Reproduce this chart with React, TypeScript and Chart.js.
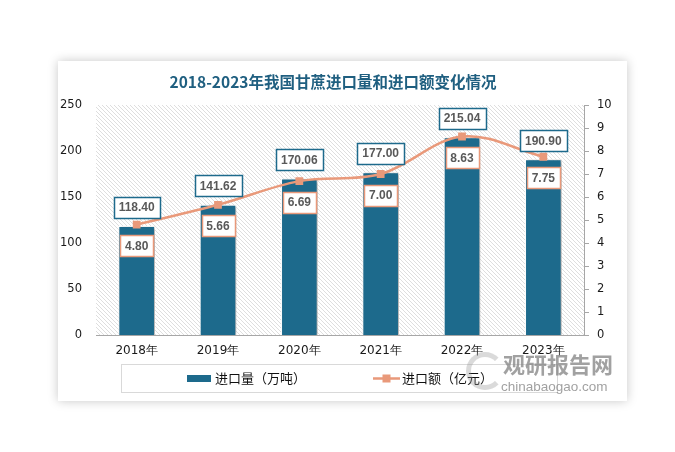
import React, { useEffect, useRef } from "react";
import { Chart, registerables } from "chart.js";

Chart.register(...registerables);

const categories = ["2018年", "2019年", "2020年", "2021年", "2022年", "2023年"];
const importVolume = [118.4, 141.62, 170.06, 177.0, 215.04, 190.9];
const importValue = [4.8, 5.66, 6.69, 7.0, 8.63, 7.75];
const leftTickStep = 50;
const leftMax = 250;
const rightTickStep = 1;
const rightMax = 10;
const titleText = "2018-2023年我国甘蔗进口量和进口额变化情况";
const volumeLabel = "进口量（万吨）";
const valueLabel = "进口额（亿元）";

const BAR_COLOR = "#1d6a8c";
const LINE_COLOR = "#e9997a";
const W = 569;
const H = 340;

function makeHatch(ctx: CanvasRenderingContext2D) {
  const c = document.createElement("canvas");
  c.width = 4;
  c.height = 4;
  const g = c.getContext("2d")!;
  g.fillStyle = "#ffffff";
  g.fillRect(0, 0, 4, 4);
  g.fillStyle = "#dedede";
  for (let i = 0; i < 4; i++) g.fillRect(i, i, 1, 1);
  return ctx.createPattern(c, "repeat");
}

function drawBox(
  ctx: CanvasRenderingContext2D,
  text: string,
  cx: number,
  cy: number,
  border: string
) {
  ctx.font = "bold 12px 'Liberation Sans', Arial, sans-serif";
  const tw = ctx.measureText(text).width;
  const w = Math.round(tw + 10);
  const h = 21;
  const x = Math.round(cx - w / 2) + 0.5;
  const y = Math.round(cy - h / 2) + 0.5;
  ctx.fillStyle = "#ffffff";
  ctx.fillRect(x, y, w, h);
  ctx.strokeStyle = border;
  ctx.lineWidth = 1.5;
  ctx.strokeRect(x, y, w, h);
  ctx.fillStyle = "#595959";
  ctx.textAlign = "center";
  ctx.textBaseline = "middle";
  ctx.fillText(text, cx, cy + 1);
}

const customPlugin = {
  id: "customDraw",
  beforeDatasetsDraw(chart: any) {
    const { ctx, chartArea } = chart;
    ctx.save();
    const p = makeHatch(ctx);
    if (p) {
      ctx.fillStyle = p;
      ctx.fillRect(chartArea.left, chartArea.top, chartArea.right - chartArea.left, chartArea.bottom - chartArea.top);
    }
    ctx.restore();
  },
  beforeDatasetDraw(chart: any, args: any) {
    if (args.index === 0) {
      const ctx = chart.ctx;
      ctx.save();
      ctx.shadowColor = "rgba(0,0,0,0.35)";
      ctx.shadowBlur = 3;
      ctx.shadowOffsetX = 2;
      ctx.shadowOffsetY = 1;
    }
  },
  afterDatasetDraw(chart: any, args: any) {
    if (args.index === 0) chart.ctx.restore();
  },
  afterDatasetsDraw(chart: any) {
    const ctx = chart.ctx;
    ctx.save();
    const barMeta = chart.getDatasetMeta(0);
    barMeta.data.forEach((el: any, i: number) => {
      drawBox(ctx, importVolume[i].toFixed(2), el.x, el.y - 19, BAR_COLOR);
    });
    const lineMeta = chart.getDatasetMeta(1);
    lineMeta.data.forEach((el: any, i: number) => {
      drawBox(ctx, importValue[i].toFixed(2), el.x, el.y + 21, LINE_COLOR);
    });
    ctx.restore();
  },
  afterDraw(chart: any) {
    const ctx = chart.ctx;
    ctx.save();
    // title
    ctx.font = "bold 15.5px 'Noto Sans CJK SC', sans-serif";
    ctx.fillStyle = "#1f5f80";
    ctx.textAlign = "center";
    ctx.textBaseline = "middle";
    ctx.fillText(titleText, 275, 21);
    // legend box
    ctx.strokeStyle = "#d9d9d9";
    ctx.lineWidth = 1;
    ctx.strokeRect(63.5, 303.5, 436, 28);
    // bar legend
    ctx.fillStyle = BAR_COLOR;
    ctx.fillRect(129, 314, 24, 7);
    ctx.font = "13px 'Noto Sans CJK SC', sans-serif";
    ctx.fillStyle = "#111111";
    ctx.textAlign = "left";
    ctx.fillText(volumeLabel, 157, 317.5);
    // line legend
    ctx.strokeStyle = LINE_COLOR;
    ctx.lineWidth = 2.5;
    ctx.beginPath();
    ctx.moveTo(315, 317.5);
    ctx.lineTo(342, 317.5);
    ctx.stroke();
    ctx.fillStyle = LINE_COLOR;
    ctx.fillRect(324.5, 313.5, 8, 8);
    ctx.fillStyle = "#111111";
    ctx.fillText(valueLabel, 344, 317.5);
    ctx.restore();
  },
};

export default function App() {
  const ref = useRef<HTMLCanvasElement | null>(null);
  useEffect(() => {
    if (!ref.current) return;
    const tickFont = { family: "'DejaVu Sans', sans-serif", size: 11.5 };
    const xFont = { family: "'DejaVu Sans', sans-serif", size: 12 };
    const chart = new Chart(ref.current, {
      type: "bar",
      data: {
        labels: categories,
        datasets: [
          {
            type: "bar",
            label: volumeLabel,
            data: importVolume,
            backgroundColor: BAR_COLOR,
            borderColor: "#ffffff",
            borderWidth: 1,
            yAxisID: "y",
            barPercentage: 0.45,
            categoryPercentage: 1,
            order: 1,
          },
          {
            type: "line",
            label: valueLabel,
            data: importValue,
            borderColor: LINE_COLOR,
            backgroundColor: LINE_COLOR,
            borderWidth: 2.5,
            pointStyle: "rect",
            pointRadius: 5.5,
            pointBackgroundColor: LINE_COLOR,
            pointBorderWidth: 0,
            tension: 0.35,
            yAxisID: "y1",
            order: 0,
          },
        ] as any,
      },
      options: {
        responsive: false,
        devicePixelRatio: 1,
        animation: false,
        layout: { padding: { top: 44, left: 0, right: 0, bottom: 36 } },
        plugins: {
          legend: { display: false },
          title: { display: false },
          tooltip: { enabled: false },
        },
        scales: {
          x: {
            grid: { display: false, drawTicks: false },
            border: { display: true, color: "#a6a6a6", width: 1 },
            ticks: { color: "#1a1a1a", font: xFont, padding: 9 },
            afterFit: (s: any) => {
              s.height = 30;
            },
          },
          y: {
            position: "left",
            min: 0,
            max: leftMax,
            ticks: { stepSize: leftTickStep, color: "#1a1a1a", font: tickFont, padding: 14 },
            grid: { display: false, drawTicks: false },
            border: { display: false },
            afterFit: (s: any) => {
              s.width = 38;
            },
          },
          y1: {
            position: "right",
            min: 0,
            max: rightMax,
            ticks: { stepSize: rightTickStep, color: "#1a1a1a", font: tickFont, padding: 8 },
            grid: { drawOnChartArea: false, drawTicks: true, tickLength: 5, color: "#a6a6a6" },
            border: { display: true, color: "#a6a6a6" },
            afterFit: (s: any) => {
              s.width = 43;
            },
          },
        },
      } as any,
      plugins: [customPlugin],
    });
    return () => chart.destroy();
  }, []);

  return (
    <div style={{ position: "fixed", left: 0, top: 0, width: 675, height: 452, background: "#fff" }}>
      <div
        style={{
          position: "absolute",
          left: 58,
          top: 61,
          width: W,
          height: H,
          background: "#fff",
          boxShadow: "0 0 10px rgba(0,0,0,0.22)",
        }}
      >
        <canvas ref={ref} width={W} height={H} style={{ display: "block", width: W, height: H }} />
      </div>
      <div
        style={{
          position: "absolute",
          left: 466,
          top: 352,
          width: 28,
          height: 28,
          borderRadius: "50%",
          border: "5px solid rgba(150,150,150,0.35)",
          borderRightColor: "transparent",
        }}
      />
      <div
        style={{
          position: "absolute",
          left: 503,
          top: 349,
          font: "bold 22px 'Noto Sans CJK SC', sans-serif",
          color: "rgba(130,130,130,0.75)",
          lineHeight: "28px",
          letterSpacing: "0px",
        }}
      >
        观研报告网
      </div>
      <div
        style={{
          position: "absolute",
          left: 501,
          top: 379,
          font: "13.5px 'Liberation Sans', Arial, sans-serif",
          color: "rgba(130,130,130,0.75)",
          lineHeight: "16px",
        }}
      >
        chinabaogao.com
      </div>
    </div>
  );
}
